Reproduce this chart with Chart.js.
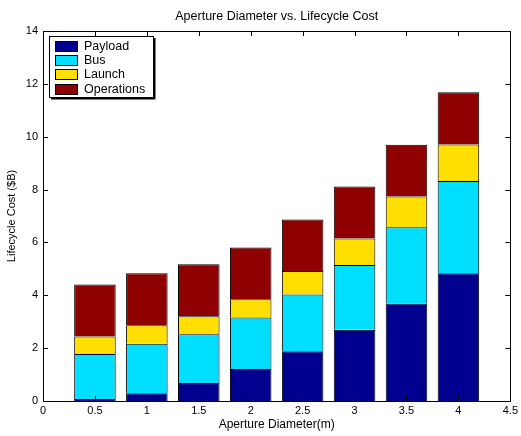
<!DOCTYPE html>
<html>
<head>
<meta charset="utf-8">
<script src="https://cdn.jsdelivr.net/npm/chart.js@4.4.0/dist/chart.umd.min.js"></script>
<style>
  html, body { margin: 0; padding: 0; background: #fff; }
  #wrap { width: 521px; height: 436px; }
</style>
</head>
<body>
<div id="wrap"><canvas id="myChart" width="521" height="436"></canvas></div>
<script>
// aperture diameters (m) and cost parts ($B)
var diameters = [0.5, 1, 1.5, 2, 2.5, 3, 3.5, 4]
var payload    = [0.08, 0.29, 0.68, 1.21, 1.88, 2.70, 3.69, 4.83]
var bus        = [1.70, 1.88, 1.85, 1.95, 2.15, 2.45, 2.88, 3.49]
var launch     = [0.66, 0.70, 0.68, 0.69, 0.89, 1.00, 1.17, 1.39]
var operations = [1.97, 1.96, 1.96, 1.96, 1.95, 1.97, 1.96, 1.97]

var seriesNames  = ['Payload', 'Bus', 'Launch', 'Operations']
var seriesColors = ['#00008f', '#00dfff', '#ffdf00', '#8f0000']
var seriesValues = [payload, bus, launch, operations]

var chartTitle = 'Aperture Diameter vs. Lifecycle Cost'
var fontFam = '"Liberation Sans", Arial, Helvetica, sans-serif'

function toPoints(vals){
    return diameters.map(function(d, i){ return {x: d, y: vals[i]} })
}

var datasets = seriesNames.map(function(name, k){
    return {
        label: name,
        data: toPoints(seriesValues[k]),
        backgroundColor: seriesColors[k],
        borderColor: '#000',
        borderWidth: 1,
        categoryPercentage: 1.0,
        barPercentage: 0.8
    }
})

// MATLAB style box with inward ticks, title over the plot, legend inside
var boxPlugin = {
    id: 'matBox',
    afterDraw: function(chart){
        var ctx = chart.ctx
        var a = chart.chartArea
        var xs = chart.scales.x, ys = chart.scales.y
        var len = 5
        ctx.save()
        ctx.strokeStyle = '#000'
        ctx.lineWidth = 1
        ctx.beginPath()
        xs.ticks.forEach(function(t){
            var px = Math.round(xs.getPixelForValue(t.value)) + 0.5
            ctx.moveTo(px, a.bottom); ctx.lineTo(px, a.bottom - len)
            ctx.moveTo(px, a.top); ctx.lineTo(px, a.top + len)
        })
        ys.ticks.forEach(function(t){
            var py = Math.round(ys.getPixelForValue(t.value)) + 0.5
            ctx.moveTo(a.left, py); ctx.lineTo(a.left + len, py)
            ctx.moveTo(a.right, py); ctx.lineTo(a.right - len, py)
        })
        ctx.stroke()
        ctx.strokeRect(Math.round(a.left) + 0.5, Math.round(a.top) + 0.5,
                       Math.round(a.right - a.left), Math.round(a.bottom - a.top))

        // title
        ctx.fillStyle = '#000'
        ctx.font = '12.5px ' + fontFam
        ctx.textAlign = 'center'
        ctx.textBaseline = 'middle'
        ctx.fillText(chartTitle, (a.left + a.right) / 2, 17)

        // legend
        var lx = a.left + 6, ly = a.top + 5, lw = 104, lh = 61
        ctx.fillStyle = '#fff'
        ctx.fillRect(lx, ly, lw, lh)
        ctx.strokeRect(lx + 0.5, ly + 0.5, lw, lh)
        ctx.lineWidth = 2
        ctx.beginPath()
        ctx.moveTo(lx + lw + 1.5, ly + 2); ctx.lineTo(lx + lw + 1.5, ly + lh + 1.5); ctx.lineTo(lx + 2, ly + lh + 1.5)
        ctx.stroke()
        ctx.lineWidth = 1
        ctx.font = '12.5px ' + fontFam
        ctx.textAlign = 'left'
        chart.data.datasets.forEach(function(ds, i){
            var cy = ly + 10 + i * 14.2
            ctx.fillStyle = ds.backgroundColor
            ctx.fillRect(lx + 6, Math.round(cy - 5), 22, 10)
            ctx.strokeStyle = '#000'
            ctx.strokeRect(lx + 6.5, Math.round(cy - 5) + 0.5, 22, 10)
            ctx.fillStyle = '#000'
            ctx.fillText(ds.label, lx + 35, cy + 0.5)
        })
        ctx.restore()
    }
}

var ctx = document.getElementById('myChart')
new Chart(ctx, {
    type: 'bar',
    data: { datasets: datasets },
    plugins: [boxPlugin],
    options: {
        responsive: false,
        animation: false,
        layout: { padding: { left: 0, right: 9, top: 31, bottom: 0 } },
        plugins: {
            legend: { display: false },
            tooltip: { enabled: false },
            title: { display: false }
        },
        scales: {
            x: {
                type: 'linear',
                stacked: true,
                min: 0,
                max: 4.5,
                offset: false,
                afterFit: function(s){ s.height = 35 },
                grid: { display: false, drawTicks: false },
                border: { display: false },
                ticks: { stepSize: 0.5, padding: 3, color: '#000', maxRotation: 0,
                         callback: function(v){ return String(v) },
                         font: { family: fontFam, size: 11 } },
                title: { display: true, text: 'Aperture Diameter(m)', color: '#000',
                         padding: { top: 0, bottom: 4 },
                         font: { family: fontFam, size: 12 } }
            },
            y: {
                stacked: true,
                min: 0,
                max: 14,
                afterFit: function(s){ s.width = 43 },
                grid: { display: false, drawTicks: false },
                border: { display: false },
                ticks: { stepSize: 2, padding: 5, color: '#000',
                         font: { family: fontFam, size: 11 } },
                title: { display: true, text: 'Lifecycle Cost ($B)', color: '#000',
                         padding: { top: 5, bottom: 0 },
                         font: { family: fontFam, size: 11 } }
            }
        }
    }
})
</script>
</body>
</html>
